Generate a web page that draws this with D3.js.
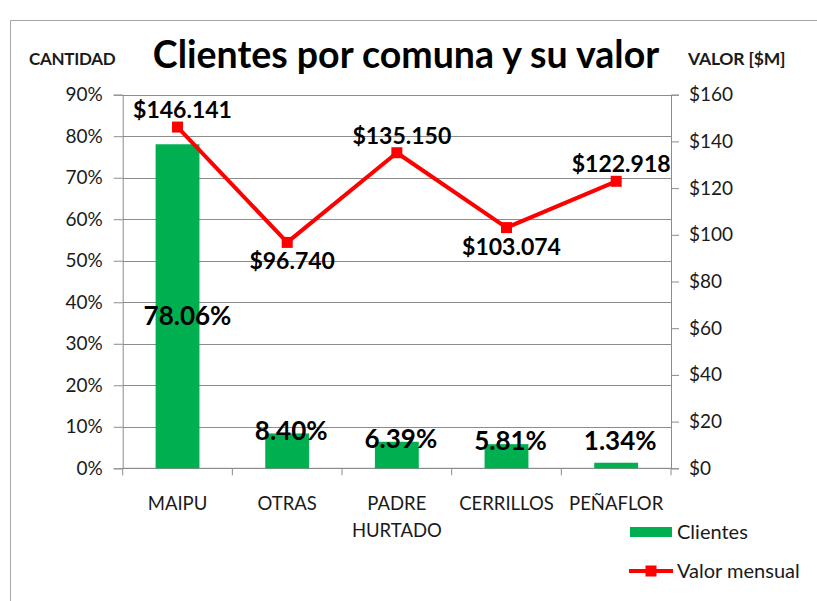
<!DOCTYPE html>
<html>
<head>
<meta charset="utf-8">
<script src="https://cdn.jsdelivr.net/npm/d3@7"></script>
<style>
  body { margin: 0; background: #fff; }
  svg { display: block; font-family: Lato, "Open Sans", sans-serif; }
</style>
</head>
<body>
<svg id="chart" width="817" height="601"></svg>
<script>
const categories = ["MAIPU", "OTRAS", "PADRE HURTADO", "CERRILLOS", "PEÑAFLOR"]
const clientes = [0.7806, 0.0840, 0.0639, 0.0581, 0.0134]
const valorMensual = [146.141, 96.740, 135.150, 103.074, 122.918]
const leftTicks = [0, 0.1, 0.2, 0.3, 0.4, 0.5, 0.6, 0.7, 0.8, 0.9]
const rightTicks = [0, 20, 40, 60, 80, 100, 120, 140, 160]

const svg = d3.select("#chart")

// plot area
const pLeft = 122.7, pRight = 671, pTop = 94.7, pBottom = 468.3

const x = d3.scaleBand()
    .domain(categories)
    .range([pLeft, pRight])
    .paddingInner(0.6)
    .paddingOuter(0.3)

const yL = d3.scaleLinear().domain([0, 0.9]).range([pBottom, pTop])
const yR = d3.scaleLinear().domain([0, 160]).range([pBottom, pTop])
const cx = (d) => x(d) + x.bandwidth() / 2

// outer chart border
svg.append("path")
    .attr("d", "M10.5,601 V20.5 H817")
    .attr("fill", "none")
    .attr("stroke", "#a6a6a6")

// gridlines
svg.append("g")
    .selectAll("line")
    .data(leftTicks)
    .join("line")
        .attr("x1", pLeft).attr("x2", pRight)
        .attr("y1", d => Math.round(yL(d)) + 0.5)
        .attr("y2", d => Math.round(yL(d)) + 0.5)
        .attr("stroke", "#8c8c8c")

// left axis
const axL = svg.append("g")
    .attr("transform", `translate(${pLeft},0)`)
    .call(d3.axisLeft(yL).tickValues(leftTicks).tickFormat(d3.format(".0%")).tickSize(9).tickPadding(11))
// right axis
const axR = svg.append("g")
    .attr("transform", `translate(${pRight},0)`)
    .call(d3.axisRight(yR).tickValues(rightTicks).tickFormat(d => "$" + d).tickSize(8).tickPadding(10))

for (const ax of [axL, axR]) {
    ax.select(".domain").attr("stroke", "#8c8c8c")
    ax.selectAll(".tick line").attr("stroke", "#8c8c8c")
    ax.selectAll(".tick text")
        .attr("font-size", 19)
        .attr("font-family", "Lato, sans-serif")
        .attr("fill", "#1a1a1a")
}

// x axis line + boundary ticks
svg.append("line")
    .attr("x1", pLeft).attr("x2", pRight)
    .attr("y1", pBottom).attr("y2", pBottom)
    .attr("stroke", "#8c8c8c")
svg.append("g")
    .selectAll("line")
    .data(d3.range(categories.length + 1))
    .join("line")
        .attr("x1", i => pLeft + i * x.step()).attr("x2", i => pLeft + i * x.step())
        .attr("y1", pBottom).attr("y2", pBottom + 7)
        .attr("stroke", "#8c8c8c")

// category labels (split words into lines)
svg.append("g")
    .selectAll("text")
    .data(categories)
    .join("text")
        .attr("x", d => cx(d))
        .attr("y", pBottom + 42)
        .attr("text-anchor", "middle")
        .attr("font-size", 18.5)
        .attr("fill", "#1a1a1a")
        .each(function (d) {
            d3.select(this).selectAll("tspan")
                .data(d.split(" "))
                .join("tspan")
                    .attr("x", cx(d))
                    .attr("dy", (_, i) => i === 0 ? 0 : 27)
                    .text(w => w)
        })

// bars
svg.append("g")
    .selectAll("rect")
    .data(categories)
    .join("rect")
        .attr("x", d => x(d))
        .attr("width", x.bandwidth())
        .attr("y", (d, i) => yL(clientes[i]))
        .attr("height", (d, i) => pBottom - yL(clientes[i]))
        .attr("fill", "#00b050")

// bar labels
svg.append("g")
    .selectAll("text")
    .data(categories)
    .join("text")
        .attr("x", (d, i) => cx(d) + (i === 0 ? 10 : 4))
        .attr("y", (d, i) => {
            const t = yL(clientes[i])
            return pBottom - t > 100 ? (t + pBottom) / 2 + 10 : Math.min(t - 3, pBottom - 27)
        })
        .attr("dy", "0.35em")
        .attr("text-anchor", "middle")
        .attr("font-size", 26)
        .attr("font-weight", "bold")
        .attr("fill", "#000")
        .text((d, i) => d3.format(".2%")(clientes[i]))

// line
const line = d3.line()
    .x(d => cx(d))
    .y((d, i) => yR(valorMensual[i]))
svg.append("path")
    .datum(categories)
    .attr("d", line)
    .attr("fill", "none")
    .attr("stroke", "#ff0000")
    .attr("stroke-width", 4)
    .attr("stroke-linejoin", "round")

svg.append("g")
    .selectAll("rect")
    .data(categories)
    .join("rect")
        .attr("x", d => cx(d) - 5.5)
        .attr("y", (d, i) => yR(valorMensual[i]) - 5.5)
        .attr("width", 11).attr("height", 11)
        .attr("fill", "#ff0000")

// line labels: above unless the point is a dip
const isDip = (i) => {
    const v = valorMensual[i]
    const prev = i > 0 ? valorMensual[i - 1] : Infinity
    const next = i < valorMensual.length - 1 ? valorMensual[i + 1] : Infinity
    return v < prev && v < next
}
svg.append("g")
    .selectAll("text")
    .data(categories)
    .join("text")
        .attr("x", d => cx(d) + 5)
        .attr("y", (d, i) => yR(valorMensual[i]) + (isDip(i) ? 19 : -17))
        .attr("dy", "0.35em")
        .attr("text-anchor", "middle")
        .attr("font-size", 23)
        .attr("font-weight", "bold")
        .attr("fill", "#000")
        .text((d, i) => d3.format("$.3f")(valorMensual[i]))

// titles
svg.append("text")
    .attr("x", 406).attr("y", 68)
    .attr("text-anchor", "middle")
    .attr("font-size", 37.5)
    .attr("font-weight", "bold")
    .text("Clientes por comuna y su valor")
svg.append("text")
    .attr("x", 29).attr("y", 65)
    .attr("font-size", 17)
    .attr("font-weight", "bold")
    .attr("letter-spacing", -0.3)
    .attr("fill", "#1a1a1a")
    .text("CANTIDAD")
svg.append("text")
    .attr("x", 688).attr("y", 65)
    .attr("font-size", 17.5)
    .attr("font-weight", "bold")
    .attr("letter-spacing", -0.2)
    .attr("fill", "#1a1a1a")
    .text("VALOR [$M]")

// legend
const lg = svg.append("g")
lg.append("rect")
    .attr("x", 630).attr("y", 527).attr("width", 42).attr("height", 10)
    .attr("fill", "#00b050")
lg.append("text")
    .attr("x", 677).attr("y", 532).attr("dy", "0.35em")
    .attr("font-size", 20).attr("fill", "#1a1a1a")
    .text("Clientes")
lg.append("line")
    .attr("x1", 629).attr("x2", 673).attr("y1", 571).attr("y2", 571)
    .attr("stroke", "#ff0000").attr("stroke-width", 4)
lg.append("rect")
    .attr("x", 645.5).attr("y", 565.5).attr("width", 11).attr("height", 11)
    .attr("fill", "#ff0000")
lg.append("text")
    .attr("x", 677).attr("y", 571).attr("dy", "0.35em")
    .attr("font-size", 20).attr("fill", "#1a1a1a")
    .text("Valor mensual")
</script>
</body>
</html>
